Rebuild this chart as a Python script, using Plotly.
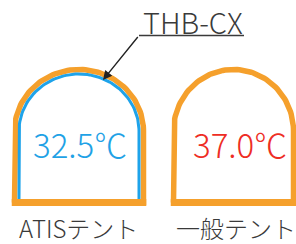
import numpy as np
import plotly.graph_objects as go

# ---- data ----
tents = ["ATISテント", "一般テント"]
temps = [32.5, 37.0]
temp_colors = ["#1fa2e6", "#ee2d24"]
sensor_label = "THB-CX"

# ---- geometry (pixel space of the 296x244 picture) ----
W, H = 296, 244
centers = [79, 233.5]
half_ws = [64.5, 60]
text_x = [79.5, 240]
label_x = [78, 236]
bottom = 202.5
shoulder = 131
top = 69.5
orange = "#f5a02c"
blue = "#1ea3ea"
grey = "#3a3a3a"

def arch(cx, rx, ry, ys, yb, closed=True):
    t = np.linspace(np.pi, 0, 80)
    xs = cx + rx * np.cos(t)
    yy = ys - ry * np.sin(t)
    x = [cx - rx] + list(xs) + [cx + rx]
    y = [yb] + list(yy) + [yb]
    if closed:
        x.append(cx - rx)
        y.append(yb)
    return x, y

fig = go.Figure()
for i, cx in enumerate(centers):
    x, y = arch(cx, half_ws[i], shoulder - top, shoulder, bottom)
    fig.add_trace(go.Scatter(x=x, y=y, mode="lines",
                             line=dict(color=orange, width=5.5),
                             hoverinfo="skip", showlegend=False))
    # thicker floor
    fig.add_trace(go.Scatter(x=[cx - half_ws[i] - 2.75, cx + half_ws[i] + 2.75],
                             y=[bottom, bottom], mode="lines",
                             line=dict(color=orange, width=7),
                             hoverinfo="skip", showlegend=False))
# blue inner lining on ATIS tent
x, y = arch(centers[0], half_ws[0] - 4.5, shoulder - top - 4.5, shoulder, bottom - 3.5, closed=False)
fig.add_trace(go.Scatter(x=x, y=y, mode="lines",
                         line=dict(color=blue, width=3),
                         hoverinfo="skip", showlegend=False))

font = "Noto Sans CJK JP"
for i, cx in enumerate(centers):
    fig.add_annotation(x=text_x[i], y=144, text=f"{temps[i]:.1f}℃", showarrow=False,
                       font=dict(family=font, size=33, color=temp_colors[i], weight=300),
                       xanchor="center", yanchor="middle")
    fig.add_annotation(x=label_x[i], y=227, text=tents[i], showarrow=False,
                       font=dict(family=font, size=24, color=grey, weight=300),
                       xanchor="center", yanchor="middle")

fig.add_annotation(x=193, y=21, text=sensor_label, showarrow=False,
                   font=dict(family=font, size=29, color=grey, weight=300),
                   xanchor="center", yanchor="middle")
fig.add_shape(type="line", x0=139, y0=35.5, x1=244, y1=35.5,
              line=dict(color=grey, width=1.5))
fig.add_annotation(x=103, y=80, ax=139, ay=35.5, axref="x", ayref="y",
                   text="", showarrow=True, arrowhead=2, arrowsize=1.3,
                   arrowwidth=1.4, arrowcolor="#222222")

fig.update_xaxes(range=[0, W], visible=False, fixedrange=True)
fig.update_yaxes(range=[H, 0], visible=False, fixedrange=True)
fig.update_layout(width=W, height=H, margin=dict(l=0, r=0, t=0, b=0),
                  paper_bgcolor="white", plot_bgcolor="white")
fig.write_html("out.html", config={"displayModeBar": False},
               post_script="document.body.style.margin='0';document.body.style.overflow='hidden';")
